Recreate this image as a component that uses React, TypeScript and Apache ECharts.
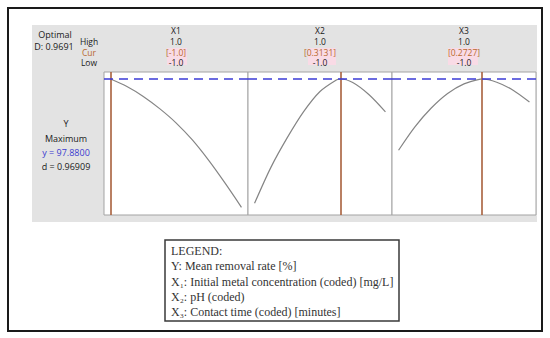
import React, { useEffect, useRef } from "react";
import * as echarts from "echarts";

// ---- data ----
const factorNames = ["X1", "X2", "X3"];
const highLabels = ["1.0", "1.0", "1.0"];
const curLabels = ["[-1.0]", "[0.3131]", "[0.2727]"];
const lowLabels = ["-1.0", "-1.0", "-1.0"];
const curValues = [-1.0, 0.3131, 0.2727];
const optimalY = 97.88;

const x1Coded = [-1, -0.75, -0.5, -0.25, 0, 0.25, 0.5, 0.75, 1];
const y1Values = [97.88, 95.6, 92.6, 88.9, 84.6, 79.4, 73.2, 66.3, 59.0];
const x2Coded = [-1, -0.75, -0.5, -0.25, 0, 0.25, 0.3131, 0.5, 0.75, 1];
const y2Values = [60.2, 71.1, 80.1, 88.0, 94.1, 97.6, 97.88, 96.8, 93.1, 87.9];
const x3Coded = [-1, -0.75, -0.5, -0.25, 0, 0.25, 0.2727, 0.5, 0.75, 1];
const y3Values = [76.3, 83.4, 89.1, 93.5, 96.4, 97.85, 97.88, 96.9, 94.5, 90.9];

const legendLines = [
  "LEGEND:",
  "Y: Mean removal rate [%]",
  "X\u2081: Initial metal concentration (coded) [mg/L]",
  "X\u2082: pH (coded)",
  "X\u2083: Contact time (coded) [minutes]",
];
const leftLabels = ["Y", "Maximum", "y = 97.8800", "d = 0.96909"];
const optimalLabels = ["Optimal", "D: 0.9691"];
const rowLabels = ["High", "Cur", "Low"];

const xsList = [x1Coded, x2Coded, x3Coded];
const ysList = [y1Values, y2Values, y3Values];

export default function App() {
  const ref = useRef<HTMLDivElement>(null);
  useEffect(() => {
    if (!ref.current) return;
    const chart = echarts.init(ref.current, null, { renderer: "svg" });
    const sans = "'Open Sans', 'Noto Sans', sans-serif";
    const plotLeft = 104;
    const plotTop = 72;
    const panelW = 144;
    const plotH = 143;
    const yMin = 100 - plotH / 3.3;

    const grids = [0, 1, 2].map((i) => ({
      left: plotLeft + i * panelW,
      top: plotTop,
      width: panelW,
      height: plotH,
      show: true,
      backgroundColor: "#ffffff",
      borderColor: "#a3a3a3",
      borderWidth: 1,
      z: 1,
    }));
    const xAxes = [0, 1, 2].map((i) => ({
      type: "value",
      gridIndex: i,
      min: -1.1,
      max: 1.1,
      show: false,
    }));
    const yAxes = [0, 1, 2].map((i) => ({
      type: "value",
      gridIndex: i,
      min: yMin,
      max: 100,
      show: false,
    }));
    const series = [0, 1, 2].map((i) => ({
      type: "line",
      xAxisIndex: i,
      yAxisIndex: i,
      data: xsList[i].map((x, k) => [x, ysList[i][k]]),
      smooth: 0.3,
      showSymbol: false,
      lineStyle: { color: "#858585", width: 1.2 },
      z: 3,
      markLine: {
        silent: true,
        symbol: "none",
        label: { show: false },
        animation: false,
        data: [
          {
            xAxis: curValues[i],
            lineStyle: { color: "#a8603c", width: 1.6, type: "solid" },
          },
          {
            yAxis: optimalY,
            lineStyle: { color: "#3b3bd6", width: 1.5, type: [9, 6] },
          },
        ],
      },
    }));

    const graphics: any[] = [];
    // outer frame
    graphics.push({
      type: "rect",
      shape: { x: 8, y: 8, width: 534, height: 323 },
      style: { fill: "#ffffff", stroke: "#1a1a1a", lineWidth: 2 },
      z: -10,
    });
    // gray panel
    graphics.push({
      type: "rect",
      shape: { x: 32, y: 25, width: 505, height: 197 },
      style: { fill: "#e3e3e3" },
      z: -9,
    });
    // pink highlight boxes behind cur/low values
    const pinkBoxes = [
      [167, 48, 20],
      [308, 48, 28],
      [448, 48, 30],
    ];
    pinkBoxes.forEach(([x, y, w]) =>
      graphics.push({
        type: "rect",
        shape: { x, y, width: w, height: 17 },
        style: { fill: "#f9dbe6" },
        z: -8,
      })
    );
    const txt = (text: string, x: number, y: number, fill = "#1a1a1a", size = 8.5, align = "center") => ({
      type: "text",
      x,
      y,
      z: 10,
      style: {
        text,
        fill,
        fontSize: size,
        lineHeight: 9,
        fontFamily: sans,
        align,
        verticalAlign: "middle",
      },
    });
    graphics.push(txt(optimalLabels[0], 55, 34, "#1a1a1a", 9));
    graphics.push(txt(optimalLabels[1], 54, 46, "#1a1a1a", 9));
    const rowY = [41.5, 52, 62.5];
    const rowColors = ["#1a1a1a", "#b8692e", "#1a1a1a"];
    rowLabels.forEach((r, k) => graphics.push(txt(r, 89, rowY[k], rowColors[k])));
    factorNames.forEach((n, i) => {
      const cx = plotLeft + i * panelW + panelW / 2;
      graphics.push(txt(n, cx, 30));
      graphics.push(txt(highLabels[i], cx, rowY[0]));
      graphics.push(txt(curLabels[i], cx, rowY[1], "#b8692e"));
      graphics.push(txt(lowLabels[i], cx, rowY[2]));
    });
    const leftY = [123, 138, 152, 166];
    const leftColors = ["#1a1a1a", "#1a1a1a", "#3b3bd0", "#1a1a1a"];
    leftLabels.forEach((t, k) => graphics.push(txt(t, 66, leftY[k], leftColors[k], 9)));

    // legend box
    graphics.push({
      type: "rect",
      shape: { x: 165, y: 240, width: 234, height: 81 },
      style: { fill: "#ffffff", stroke: "#3a3a3a", lineWidth: 1.5 },
      z: 5,
    });
    const legY = [251, 266, 282, 297, 312];
    legendLines.forEach((t, k) =>
      graphics.push({
        type: "text",
        x: 171,
        y: legY[k],
        z: 10,
        style: {
          text: t,
          fill: "#333333",
          fontSize: 12,
          lineHeight: 14,
          fontFamily: "'Liberation Serif', 'DejaVu Serif', serif",
          align: "left",
          verticalAlign: "middle",
        },
      })
    );

    chart.setOption({
      animation: false,
      backgroundColor: "#ffffff",
      grid: grids,
      xAxis: xAxes,
      yAxis: yAxes,
      series,
      graphic: graphics,
    });
    return () => chart.dispose();
  }, []);
  return (
    <div
      ref={ref}
      style={{ position: "fixed", left: 0, top: 0, width: 550, height: 338 }}
    />
  );
}
